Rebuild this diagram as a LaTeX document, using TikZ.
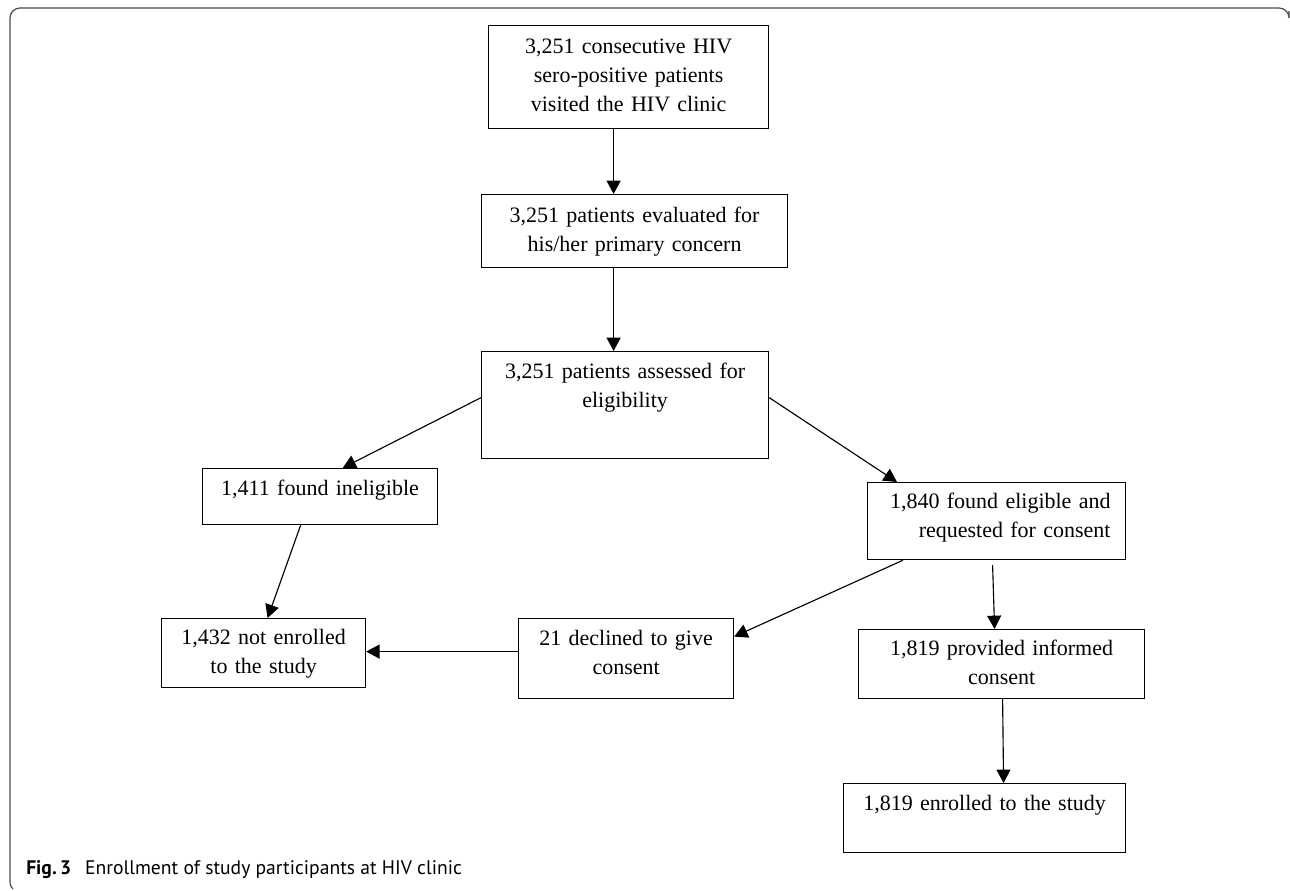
\documentclass[tikz,border=0pt]{standalone}
\usepackage{fontspec}
\setmainfont{Liberation Serif}
\newfontfamily\capfont{PT Sans}
\usetikzlibrary{arrows.meta}
\begin{document}
\begin{tikzpicture}[x=0.75pt,y=-0.75pt,
  box/.style={draw=black, line width=0.9pt, inner sep=0pt, anchor=north west,
    align=center, font=\fontsize{16.5pt}{21.75pt}\selectfont},
  arr/.style={line width=0.85pt, -{Triangle[length=10pt,width=10.5pt]}},
  frame/.style={draw=black!70, line width=0.9pt}]
\useasboundingbox (0,0) rectangle (1290,890);
% frame
\draw[frame, rounded corners=7.5pt] (10,878) -- (10,8) -- (1289,8) -- (1289,11);
\draw[frame] (10,878) .. controls (10,885) .. (13,889);
% boxes
\node[box, text width=210pt, text height=21pt, text depth=56.25pt] (b1) at (488,25)
  {3,251 consecutive HIV\\sero-positive patients\\visited the HIV clinic};
\node[box, text width=229.5pt, text height=21pt, text depth=33.75pt] (b2) at (481,194)
  {3,251 patients evaluated for\\his/her primary concern};
\node[box, text width=215.25pt, text height=20.25pt, text depth=60pt] (b3) at (481,351)
  {3,251 patients assessed for\\eligibility};
\node[box, text width=176.25pt, text height=20.25pt, text depth=21.75pt] (b4) at (202,468)
  {1,411 found ineligible};
\node[box, text width=153pt, text height=19.5pt, text depth=32.25pt] (b5) at (161,618)
  {1,432 not enrolled\\to the study};
\node[box, text width=161.25pt, text height=20.25pt, text depth=39.75pt] (b6) at (518,618)
  {21 declined to give\\consent};
\node[box, align=right, inner xsep=11.25pt, text width=171pt, text height=19.5pt, text depth=38.25pt] (b7) at (867,482)
  {1,840 found eligible and\\requested for consent};
\node[box, text width=214.5pt, text height=19.5pt, text depth=32.25pt] (b8) at (858,629)
  {1,819 provided informed\\consent};
\node[box, text width=211.5pt, text height=20.25pt, text depth=31.5pt] (b9) at (843,783)
  {1,819 enrolled to the study};
% arrows
\draw[arr] ([xshift=-11.25pt]b1.south) -- ([xshift=-11.25pt]b1.south |- b2.north);
\draw[arr] ([xshift=-15.75pt]b2.south) -- ([xshift=-15.75pt]b2.south |- b3.north);
\draw[arr] ([yshift=5.6pt]b3.west) -- ([xshift=16.9pt]b4.north);
\draw[arr] ([xshift=-14.6pt]b4.south) -- ([xshift=3pt]b5.north);
\draw[arr] ([yshift=5.25pt]b6.west) -- ([yshift=5.25pt]b6.west -| b5.east);
\draw[arr] ([yshift=5.6pt]b3.east) -- ([xshift=22.5pt]b7.north west);
\draw[arr] ([xshift=27pt]b7.south west) -- ([yshift=16.5pt]b6.east);
\draw[arr] ([xshift=-3pt,yshift=-3.75pt]b7.south) -- ([xshift=-5.25pt]b8.north);
\draw[arr] ([xshift=0.75pt]b8.south) -- ([xshift=14.25pt]b9.north);
% caption
\node[anchor=base west, inner sep=0pt, font=\capfont\fontsize{14.7pt}{17pt}\selectfont] (cap) at (26,874)
  {\textbf{Fig.\,3}\hspace{10.5pt}Enrollment of study participants at HIV clinic};
\end{tikzpicture}
\end{document}
